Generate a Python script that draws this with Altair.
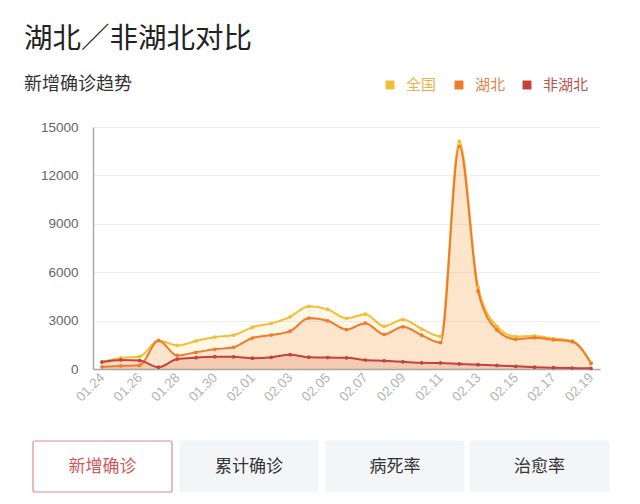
import altair as alt
import pandas as pd

dates = ["01.24", "01.25", "01.26", "01.27", "01.28", "01.29", "01.30", "01.31",
         "02.01", "02.02", "02.03", "02.04", "02.05", "02.06", "02.07", "02.08",
         "02.09", "02.10", "02.11", "02.12", "02.13", "02.14", "02.15", "02.16",
         "02.17", "02.18", "02.19"]
national = [444, 688, 769, 1771, 1459, 1737, 1982, 2102, 2590, 2829, 3235, 3887, 3694, 3143,
            3399, 2656, 3062, 2478, 2015, 14108, 5090, 2641, 2009, 2048, 1886, 1749, 394]
hubei = [130, 190, 230, 1760, 840, 1032, 1220, 1347, 1921, 2103, 2345, 3156, 2987, 2447,
         2841, 2147, 2618, 2097, 1638, 13800, 4823, 2420, 1843, 1933, 1807, 1693, 349]
non_hubei = [430, 560, 520, 110, 619, 705, 762, 755, 669, 726, 890, 731, 707, 696,
             558, 509, 444, 381, 377, 312, 267, 221, 166, 115, 79, 56, 45]

series_names = ["全国", "湖北", "非湖北"]
series_colors = ["#f3bd35", "#ee7b2c", "#c4423a"]
legend_text_colors = ["#e6b449", "#dc8550", "#b8524d"]
area_opacity = [0.12, 0.16, 0.16]
y_ticks = [0, 3000, 6000, 9000, 12000, 15000]
buttons = ["新增确诊", "累计确诊", "病死率", "治愈率"]
title_text = "湖北／非湖北对比"
subtitle_text = "新增确诊趋势"

CJK = "Noto Sans CJK SC"
LEFT, TOP = 93, 127

rows = []
for name, vals in zip(series_names, [national, hubei, non_hubei]):
    for d, v in zip(dates, vals):
        rows.append({"date": d, "value": v, "series": name})
df = pd.DataFrame(rows)

x_enc = alt.X("date:O", sort=dates,
              scale=alt.Scale(type="point", padding=0.48),
              axis=alt.Axis(values=dates[::2], labelAngle=-45, labelAlign="right",
                            labelBaseline="middle", labelColor="#b4b4b4", labelFontSize=13.5,
                            labelFont="Liberation Sans", ticks=False, domainColor="#a8a8a8",
                            domainWidth=1.5, grid=False, title=None, labelPadding=6))
y_enc = alt.Y("value:Q", stack=None,
              scale=alt.Scale(domain=[0, 15000], nice=False),
              axis=alt.Axis(values=y_ticks, format="d", labelColor="#666", labelFontSize=13.5,
                            labelFont="Liberation Sans", ticks=False, domainColor="#a8a8a8",
                            domainWidth=1.5, gridColor="#eeeeee", gridWidth=1,
                            title=None, labelPadding=15))
color_enc = alt.Color("series:N", scale=alt.Scale(domain=series_names, range=series_colors),
                      legend=None)

base = alt.Chart(df).encode(x=x_enc, y=y_enc, color=color_enc)

areas = base.mark_area(interpolate="monotone").encode(
    opacity=alt.Opacity("series:N", scale=alt.Scale(domain=series_names, range=area_opacity),
                        legend=None))
lines = base.mark_line(interpolate="monotone", strokeWidth=2)
points = base.mark_point(filled=True, size=14, opacity=1)


def text_layer(txt, x, y, size, color, align="left", weight="normal"):
    return alt.Chart(pd.DataFrame({"t": [txt]})).mark_text(
        align=align, baseline="middle", fontSize=size, color=color, font=CJK, fontWeight=weight
    ).encode(x=alt.value(x - LEFT), y=alt.value(y - TOP), text="t:N")


decor = []
decor.append(text_layer(title_text, 24, 39, 28.5, "#222222"))
decor.append(text_layer(subtitle_text, 24, 85, 18, "#333333"))

legend_sq_x = [390, 459, 527]
for name, col, tcol, sx in zip(series_names, series_colors, legend_text_colors, legend_sq_x):
    decor.append(alt.Chart(pd.DataFrame({"t": [name]})).mark_square(
        size=80, color=col, opacity=1).encode(x=alt.value(sx - LEFT), y=alt.value(85 - TOP)))
    decor.append(text_layer(name, sx + 16, 85, 15, tcol))

btn_x = [(33, 172), (180, 318), (326, 464), (470, 609)]
for i, (label, (bx0, bx1)) in enumerate(zip(buttons, btn_x)):
    selected = i == 0
    decor.append(alt.Chart(pd.DataFrame({"t": [label]})).mark_rect(
        fill="#ffffff" if selected else "#f4f5f7",
        stroke="#d98d8d" if selected else "#f4f5f7",
        strokeWidth=1.2, cornerRadius=2
    ).encode(x=alt.value(bx0 - LEFT), x2=alt.value(bx1 - LEFT),
             y=alt.value(441 - TOP), y2=alt.value(492 - TOP)))
    decor.append(text_layer(label, (bx0 + bx1) / 2, 467, 17,
                            "#d2595b" if selected else "#333333", align="center"))

chart = alt.layer(areas, lines, points, *decor).properties(
    width=507, height=242,
    padding={"left": LEFT, "top": TOP, "right": 40, "bottom": 135},
    autosize="none", background="white"
).configure_view(stroke=None)

chart.save("out.html", embed_options={"renderer": "svg", "actions": False})
